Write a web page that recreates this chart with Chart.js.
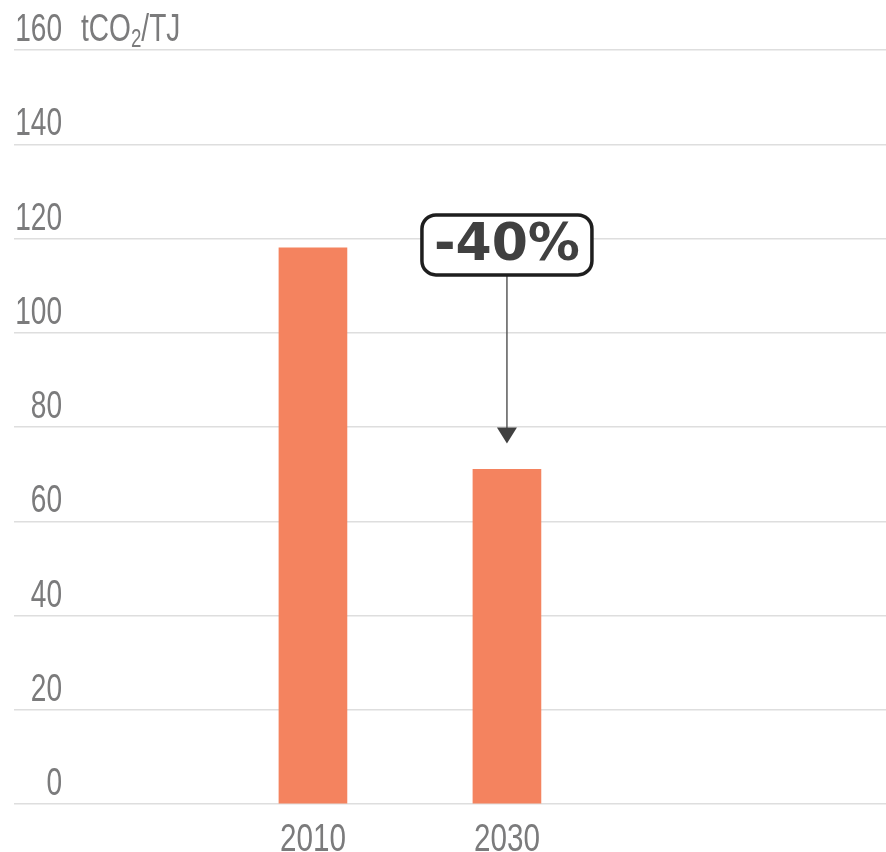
<!DOCTYPE html>
<html>
<head>
<meta charset="utf-8">
<script src="https://cdn.jsdelivr.net/npm/chart.js@4/dist/chart.umd.min.js"></script>
<style>
  html, body { margin: 0; padding: 0; background: #fff; overflow: hidden; }
</style>
</head>
<body>
<canvas id="grafico" width="886" height="866"></canvas>
<script>
// dados da intensidade de emissões
const anos = ['2010', '2030'];
const posicoes = [1, 2];
const intensidade = [118, 71];
const unidade = ['tCO', '2', '/TJ'];

const FONTE = '"Liberation Sans", Arial, sans-serif';
const CINZA = '#7b7b7c';

// variação percentual entre o primeiro e o último ano
const variacao = Math.round((intensidade[1] - intensidade[0]) / intensidade[0] * 100);

// texto estreito (a fonte condensada não existe aqui, então comprime na horizontal)
function textoEstreito(ctx, texto, x, y, escala, alinhamento) {
  ctx.save();
  ctx.translate(x, y);
  ctx.scale(escala, 1);
  ctx.textAlign = alinhamento;
  ctx.fillText(texto, 0, 0);
  const largura = ctx.measureText(texto).width * escala;
  ctx.restore();
  return largura;
}

const rotulosPlugin = {
  id: 'rotulos',
  afterDraw(chart) {
    const ctx = chart.ctx;
    const xs = chart.scales.x;
    const ys = chart.scales.y;
    ctx.save();
    ctx.fillStyle = CINZA;
    ctx.textBaseline = 'alphabetic';
    ctx.font = '39px ' + FONTE;

    // valores do eixo y, acima de cada linha de grade
    ys.ticks.forEach(t => {
      textoEstreito(ctx, String(t.value), chart.chartArea.left + 48, ys.getPixelForValue(t.value) - 9, 0.72, 'right');
    });

    // anos no eixo x
    xs.ticks.forEach((t, i) => {
      textoEstreito(ctx, anos[i], xs.getPixelForValue(t.value), chart.chartArea.bottom + 47, 0.76, 'center');
    });

    // unidade ao lado do topo da escala
    const base = ys.getPixelForValue(160) - 9;
    let x = chart.chartArea.left + 67;
    x += textoEstreito(ctx, unidade[0], x, base, 0.72, 'left');
    ctx.font = '26px ' + FONTE;
    x += textoEstreito(ctx, unidade[1], x, base + 6, 0.72, 'left');
    ctx.font = '39px ' + FONTE;
    textoEstreito(ctx, unidade[2], x, base, 0.72, 'left');
    ctx.restore();
  }
};

const setaPlugin = {
  id: 'seta',
  afterDatasetsDraw(chart) {
    const ctx = chart.ctx;
    const xs = chart.scales.x;
    const ys = chart.scales.y;
    const cx = xs.getPixelForValue(posicoes[1]);
    const cy = ys.getPixelForValue(intensidade[0]) - 3;
    const ponta = ys.getPixelForValue(intensidade[1]) - 26;
    const w = 170, h = 60;
    const topoCaixa = cy - h / 2;

    ctx.save();
    // linha e ponta da seta
    ctx.strokeStyle = '#5a5a5a';
    ctx.lineWidth = 1.5;
    ctx.beginPath();
    ctx.moveTo(cx, topoCaixa + h);
    ctx.lineTo(cx, ponta - 14);
    ctx.stroke();
    ctx.fillStyle = '#404040';
    ctx.beginPath();
    ctx.moveTo(cx - 10, ponta - 16);
    ctx.lineTo(cx + 10, ponta - 16);
    ctx.lineTo(cx, ponta);
    ctx.closePath();
    ctx.fill();

    // caixa arredondada
    ctx.fillStyle = '#ffffff';
    ctx.strokeStyle = '#1e1e1e';
    ctx.lineWidth = 3.5;
    ctx.beginPath();
    ctx.roundRect(cx - w / 2, topoCaixa, w, h, 14);
    ctx.fill();
    ctx.stroke();

    ctx.fillStyle = '#404040';
    ctx.font = 'bold 52px "DejaVu Sans", Verdana, sans-serif';
    ctx.textAlign = 'center';
    ctx.textBaseline = 'middle';
    ctx.fillText(variacao + '%', cx, cy + 2);
    ctx.restore();
  }
};

new Chart(document.getElementById('grafico'), {
  type: 'bar',
  data: {
    datasets: [{
      data: posicoes.map((p, i) => ({ x: p, y: intensidade[i] })),
      backgroundColor: '#f4835f',
      barThickness: 68,
      borderWidth: 0
    }]
  },
  options: {
    responsive: false,
    animation: false,
    layout: { padding: { left: 14, top: 50, right: 0, bottom: 0 } },
    plugins: {
      legend: { display: false },
      tooltip: { enabled: false }
    },
    scales: {
      x: {
        type: 'linear',
        bounds: 'data',
        offset: false,
        min: -0.541,
        max: 3.954,
        grid: { display: false },
        border: { display: false },
        afterBuildTicks: (scale) => {
          scale.ticks = posicoes.map(v => ({ value: v }));
        },
        afterFit: (scale) => { scale.height = 62; },
        ticks: { display: false }
      },
      y: {
        min: 0,
        max: 160,
        afterFit: (scale) => { scale.width = 0; },
        grid: { color: '#dedede', lineWidth: 1.5, drawTicks: false },
        border: { display: false },
        ticks: { stepSize: 20, display: false }
      }
    }
  },
  plugins: [rotulosPlugin, setaPlugin]
});
</script>
</body>
</html>
